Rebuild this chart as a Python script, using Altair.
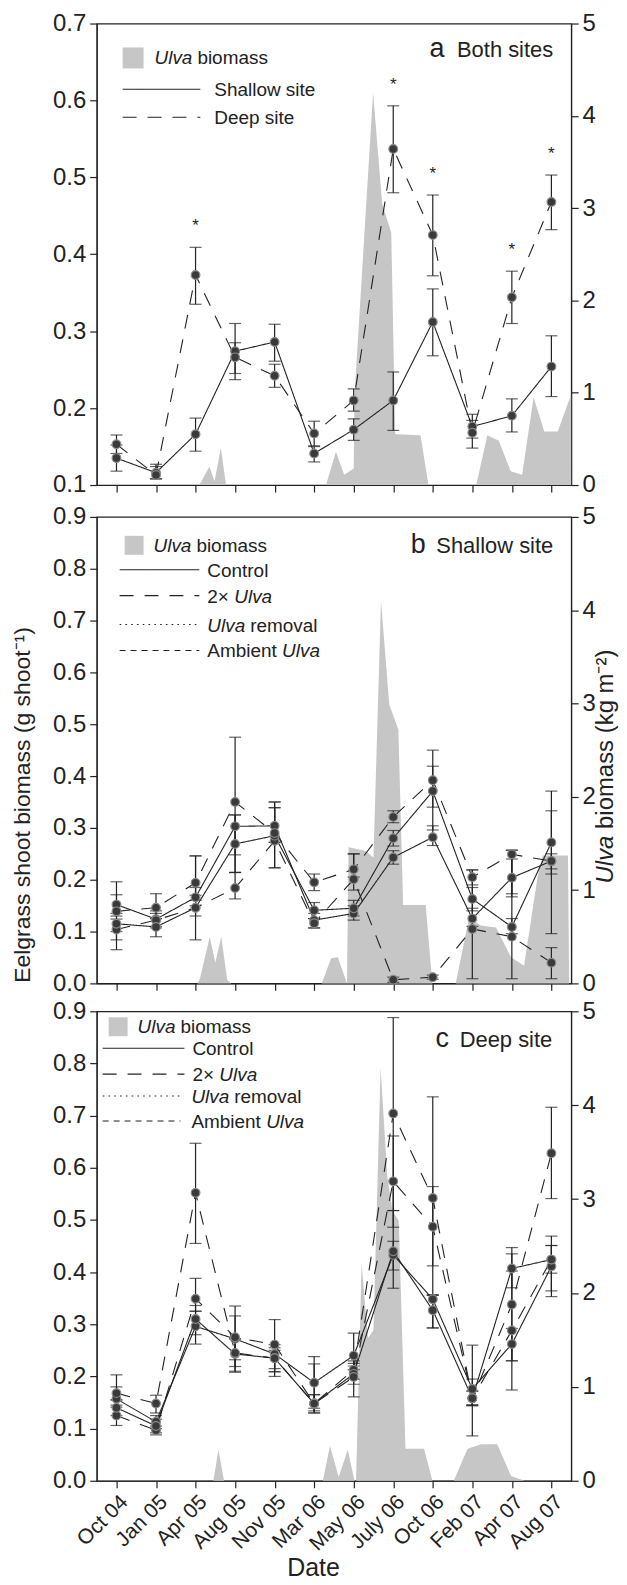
import altair as alt
import pandas as pd

DATES = ["Oct 04", "Jan 05", "Apr 05", "Aug 05", "Nov 05", "Mar 06",
         "May 06", "July 06", "Oct 06", "Feb 07", "Apr 07", "Aug 07"]

# ---- panel a: both sites ----
A_SHALLOW = [0.135, 0.116, 0.166, 0.274, 0.286, 0.141, 0.172, 0.210, 0.312, 0.176, 0.190, 0.254]
A_SHALLOW_LO = [0.118, 0.108, 0.144, 0.245, 0.261, 0.130, 0.158, 0.171, 0.268, 0.161, 0.169, 0.215]
A_SHALLOW_HI = [0.152, 0.124, 0.187, 0.310, 0.309, 0.150, 0.186, 0.247, 0.355, 0.192, 0.212, 0.294]
A_DEEP = [0.153, 0.113, 0.373, 0.266, 0.242, 0.167, 0.210, 0.537, 0.425, 0.168, 0.344, 0.468]
A_DEEP_LO = [0.141, 0.108, 0.335, 0.237, 0.227, 0.151, 0.196, 0.480, 0.372, 0.148, 0.310, 0.432]
A_DEEP_HI = [0.165, 0.127, 0.409, 0.285, 0.257, 0.183, 0.225, 0.593, 0.477, 0.184, 0.378, 0.503]
A_DEEP_SIG = [0, 0, 1, 0, 0, 0, 0, 1, 1, 0, 1, 1]

UA_X = [-0.5, 2.1, 2.15, 2.35, 2.48, 2.64, 2.77, 5.3, 5.55, 5.76, 6.0, 6.02, 6.49, 6.72, 6.95,
        7.05, 7.69, 7.89, 9.1, 9.38, 9.67, 9.97, 10.26, 10.55, 10.82, 11.16, 11.5]
UA_Y = [0, 0, 0.04, 0.2, 0.04, 0.4, 0, 0, 0.36, 0.11, 0.18, 0.97, 4.25, 3.05, 2.73,
        0.55, 0.54, 0, 0, 0.54, 0.48, 0.15, 0.11, 0.95, 0.58, 0.58, 0.98]

# ---- panel b: shallow site ----
B_CONTROL = [0.152, 0.124, 0.166, 0.303, 0.304, 0.122, 0.135, 0.243, 0.282, 0.125, 0.204, 0.236]
B_CONTROL_LO = [0.135, 0.110, 0.150, 0.248, 0.272, 0.107, 0.122, 0.230, 0.266, 0.110, 0.167, 0.096]
B_CONTROL_HI = [0.171, 0.140, 0.185, 0.325, 0.339, 0.135, 0.150, 0.256, 0.304, 0.145, 0.240, 0.371]
B_DOUBLE = [0.104, 0.122, 0.146, 0.184, 0.275, 0.116, 0.201, 0.007, 0.012, 0.105, 0.090, 0.040]
B_DOUBLE_LO = [0.084, 0.107, 0.084, 0.163, 0.223, 0.107, 0.180, 0.002, 0.008, 0.009, 0.009, 0.009]
B_DOUBLE_HI = [0.124, 0.135, 0.246, 0.214, 0.350, 0.125, 0.250, 0.012, 0.016, 0.219, 0.257, 0.069]
B_REMOVAL = [0.115, 0.109, 0.146, 0.269, 0.285, 0.141, 0.145, 0.280, 0.371, 0.163, 0.109, 0.272]
B_REMOVAL_LO = [0.100, 0.090, 0.130, 0.214, 0.223, 0.125, 0.130, 0.265, 0.296, 0.140, 0.096, 0.211]
B_REMOVAL_HI = [0.130, 0.125, 0.160, 0.325, 0.339, 0.156, 0.160, 0.295, 0.419, 0.185, 0.125, 0.333]
B_AMBIENT = [0.139, 0.146, 0.194, 0.350, 0.290, 0.195, 0.220, 0.321, 0.392, 0.205, 0.249, 0.236]
B_AMBIENT_LO = [0.065, 0.125, 0.170, 0.214, 0.272, 0.179, 0.205, 0.310, 0.340, 0.190, 0.173, 0.221]
B_AMBIENT_HI = [0.196, 0.173, 0.246, 0.475, 0.350, 0.211, 0.250, 0.333, 0.450, 0.219, 0.257, 0.250]

UB_X = [-0.5, 2.05, 2.11, 2.36, 2.5, 2.65, 2.8, 2.9, 5.19, 5.43, 5.6, 5.83, 5.87, 6.3, 6.5, 6.69,
        6.9, 7.13, 7.25, 7.35, 7.82, 7.99, 8.58, 8.92, 9.21, 9.6, 9.98, 10.31, 10.65, 10.78, 11.42, 11.45]
UB_Y = [0, 0, 0.05, 0.5, 0.22, 0.5, 0.04, 0, 0, 0.27, 0.28, 0, 1.46, 1.42, 1.35, 4.1,
        2.99, 2.72, 0.84, 0.84, 0.84, 0, 0, 0.71, 0.62, 0.6, 0.28, 0.19, 1.14, 1.37, 1.37, 0]

# ---- panel c: deep site ----
C_CONTROL = [0.157, 0.113, 0.296, 0.272, 0.243, 0.188, 0.240, 0.433, 0.348, 0.176, 0.262, 0.411]
C_CONTROL_LO = [0.141, 0.100, 0.262, 0.232, 0.209, 0.139, 0.213, 0.404, 0.293, 0.144, 0.230, 0.353]
C_CONTROL_HI = [0.180, 0.125, 0.325, 0.316, 0.261, 0.238, 0.283, 0.459, 0.356, 0.195, 0.292, 0.451]
C_DOUBLE = [0.125, 0.097, 0.349, 0.275, 0.261, 0.148, 0.213, 0.704, 0.542, 0.158, 0.288, 0.424]
C_DOUBLE_LO = [0.106, 0.088, 0.325, 0.219, 0.209, 0.130, 0.195, 0.518, 0.356, 0.086, 0.174, 0.364]
C_DOUBLE_HI = [0.145, 0.105, 0.388, 0.335, 0.309, 0.165, 0.230, 0.888, 0.736, 0.260, 0.402, 0.469]
C_REMOVAL = [0.140, 0.105, 0.310, 0.243, 0.235, 0.148, 0.205, 0.440, 0.327, 0.158, 0.407, 0.424]
C_REMOVAL_LO = [0.125, 0.092, 0.280, 0.210, 0.215, 0.134, 0.185, 0.369, 0.293, 0.146, 0.370, 0.398]
C_REMOVAL_HI = [0.155, 0.118, 0.336, 0.272, 0.255, 0.165, 0.225, 0.518, 0.356, 0.172, 0.447, 0.451]
C_AMBIENT = [0.168, 0.148, 0.552, 0.245, 0.235, 0.148, 0.199, 0.574, 0.487, 0.158, 0.338, 0.628]
C_AMBIENT_LO = [0.155, 0.130, 0.455, 0.208, 0.200, 0.130, 0.161, 0.486, 0.412, 0.144, 0.230, 0.541]
C_AMBIENT_HI = [0.203, 0.164, 0.647, 0.272, 0.250, 0.224, 0.220, 0.661, 0.564, 0.172, 0.435, 0.716]

UC_X = [-0.5, 2.45, 2.58, 2.72, 5.22, 5.4, 5.62, 5.85, 6.02, 6.06, 6.2, 6.36, 6.5, 6.68, 6.85,
        6.98, 7.14, 7.31, 7.78, 7.99, 8.53, 8.88, 9.22, 9.63, 9.98, 10.32, 11.5]
UC_Y = [0, 0, 0.33, 0, 0, 0.37, 0.04, 0.33, 0, 0, 2.31, 1.52, 1.6, 4.4, 3.24,
        2.88, 2.77, 0.34, 0.34, 0, 0, 0.34, 0.39, 0.39, 0.05, 0, 0]

# ---- styling ----
W = 476
HA, HB, HC = 463, 468, 471
FONT = "Liberation Sans"
INK = "#222222"
GRAY = "#c6c6c6"
LEG = 19
TICKF = 24
SOLID = [1, 0]
LONG = [14, 11]
DOTTED = [1.6, 4.2]
SHORT = [6, 5]
LABEL_EXPR = "[" + ",".join("'%s'" % d for d in DATES) + "][datum.value]"
ONE = pd.DataFrame({"k": [0]})


def make_df(series):
    rows = []
    for name, (m, lo, hi) in series.items():
        for i in range(len(DATES)):
            rows.append({"idx": i, "date": DATES[i], "treatment": name,
                         "mean": m[i], "lo": lo[i], "hi": hi[i]})
    return pd.DataFrame(rows)


def x_enc(show, field="idx"):
    ax = dict(values=list(range(12)), grid=False, tickSize=7, tickWidth=1.2,
              tickColor=INK, domainColor=INK, domainWidth=1.2)
    if show:
        ax.update(labels=True, labelExpr=LABEL_EXPR, labelAngle=-45, labelAlign="right",
                  labelBaseline="top", labelFontSize=21, labelFont=FONT, labelColor=INK,
                  labelPadding=3, labelOverlap=False, labelBound=False,
                  titleFontSize=25, titleFont=FONT, titleFontWeight="normal",
                  titleColor=INK, titlePadding=2, titleX=217)
        title = "Date"
    else:
        ax.update(labels=False)
        title = ""
    return alt.X(field + ":Q", title=title,
                 scale=alt.Scale(domain=[-0.5, 11.5], nice=False, zero=False),
                 axis=alt.Axis(**ax))


def y_enc(field, dom, vals):
    return alt.Y(field + ":Q", title="",
                 scale=alt.Scale(domain=dom, nice=False, zero=False),
                 axis=alt.Axis(values=vals, format=".1f", grid=False, tickSize=7,
                               tickWidth=1.2, tickColor=INK, domainColor=INK, domainWidth=1.2,
                               labelFontSize=TICKF, labelFont=FONT, labelColor=INK,
                               labelPadding=4, labelOverlap=False))


def txt(s, x, y, size=LEG, style="normal", align="left", angle=0, baseline="middle",
        opacity=1):
    return alt.Chart(ONE).mark_text(
        text=s, fontSize=size, fontStyle=style, align=align, baseline=baseline,
        angle=angle, font=FONT, color=INK, opacity=opacity).encode(
        x=alt.value(x), y=alt.value(y))


def leg_line(x1, x2, y, dash):
    return alt.Chart(ONE).mark_rule(color=INK, strokeWidth=1.1, strokeDash=dash).encode(
        x=alt.value(x1), x2=alt.value(x2), y=alt.value(y))


def leg_box(x1, x2, y1, y2):
    return alt.Chart(ONE).mark_rect(color=GRAY).encode(
        x=alt.value(x1), x2=alt.value(x2), y=alt.value(y1), y2=alt.value(y2))


def ulva_text(x, y):
    return [txt("Ulva", x, y, style="italic"), txt("biomass", x + 43, y)]


def panel(df, ux, uy, dom, yvals, dashes, height, show_x, extras, stars=None):
    X = x_enc(show_x)
    base = alt.Chart(df)
    lines = base.mark_line(color=INK, strokeWidth=1.1).encode(
        x=X, y=y_enc("mean", dom, yvals),
        strokeDash=alt.StrokeDash("treatment:N", legend=None,
                                  scale=alt.Scale(domain=list(dashes.keys()),
                                                  range=list(dashes.values()))))
    bars = base.mark_rule(color=INK, strokeWidth=1.2).encode(
        x=X, y=y_enc("lo", dom, yvals), y2=alt.Y2("hi:Q"))
    caps = base.transform_fold(["lo", "hi"], as_=["end", "v"]).mark_tick(
        orient="horizontal", color=INK, thickness=1.2, size=12).encode(
        x=X, y=y_enc("v", dom, yvals))
    pts = base.mark_circle(size=76, color="#3a3a3a", opacity=1, stroke="#8a8a8a",
                           strokeWidth=1.2).encode(x=X, y=y_enc("mean", dom, yvals))
    layers = [lines, bars, caps, pts]
    if stars is not None:
        layers.append(alt.Chart(stars).mark_text(
            text="*", fontSize=17, font=FONT, color=INK, baseline="middle", dy=-21).encode(
            x=X, y=y_enc("hi", dom, yvals)))
    inner = alt.layer(*layers, *extras)
    udf = pd.DataFrame({"x": ux, "u": uy})
    area = alt.Chart(udf).mark_area(color=GRAY, opacity=1, interpolate="linear").encode(
        x=x_enc(show_x, "x"),
        y=alt.Y("u:Q", title="", scale=alt.Scale(domain=[0, 5], nice=False),
                axis=alt.Axis(orient="right", values=[0, 1, 2, 3, 4, 5], format="d",
                              grid=False, tickSize=7, tickWidth=1.2, tickColor=INK,
                              domainColor=INK, domainWidth=1.2, labelFontSize=TICKF,
                              labelFont=FONT, labelColor=INK, labelPadding=4,
                              labelOverlap=False)))
    return alt.layer(area, inner).resolve_scale(y="independent").properties(
        width=W, height=height)


# ---- panel a ----
dfa = make_df({"Shallow site": (A_SHALLOW, A_SHALLOW_LO, A_SHALLOW_HI),
               "Deep site": (A_DEEP, A_DEEP_LO, A_DEEP_HI)})
stars_a = pd.DataFrame({"idx": list(range(12)), "hi": A_DEEP_HI, "sig": A_DEEP_SIG})
stars_a = stars_a[stars_a["sig"] == 1]
extras_a = [leg_box(26, 47, 24, 45), *ulva_text(58, 35),
            leg_line(26, 104, 66, SOLID), txt("Shallow site", 118, 67),
            leg_line(26, 104, 94, LONG), txt("Deep site", 118, 95),
            txt("a", 334, 34, size=27, baseline="alphabetic"),
            txt("Both sites", 458, 34, size=22, align="right", baseline="alphabetic"),
            txt(".", 10, HA + 15, size=1, baseline="top", opacity=0)]
pa = panel(dfa, UA_X, UA_Y, [0.1, 0.7], [0.1, 0.2, 0.3, 0.4, 0.5, 0.6, 0.7],
           {"Shallow site": SOLID, "Deep site": LONG}, HA, False, extras_a, stars=stars_a)

# ---- panel b ----
TREAT = {"Control": SOLID, "2x Ulva": LONG, "Ulva removal": DOTTED, "Ambient Ulva": SHORT}
dfb = make_df({"Control": (B_CONTROL, B_CONTROL_LO, B_CONTROL_HI),
               "2x Ulva": (B_DOUBLE, B_DOUBLE_LO, B_DOUBLE_HI),
               "Ulva removal": (B_REMOVAL, B_REMOVAL_LO, B_REMOVAL_HI),
               "Ambient Ulva": (B_AMBIENT, B_AMBIENT_LO, B_AMBIENT_HI)})
YV = [0.0, 0.1, 0.2, 0.3, 0.4, 0.5, 0.6, 0.7, 0.8, 0.9]
RT = 24  # right title font size
RT_C = 250  # right title centre
RT_Y0 = RT_C + 9.81 * RT / 2
extras_b = [leg_box(28, 47, 19, 38), *ulva_text(57, 29),
            leg_line(23, 103, 53, SOLID), txt("Control", 111, 54),
            leg_line(23, 103, 79, LONG), txt("2×", 111, 80), txt("Ulva", 138, 80, style="italic"),
            leg_line(23, 103, 108, DOTTED), txt("Ulva", 111, 109, style="italic"),
            txt("removal", 154, 109),
            leg_line(23, 103, 134, SHORT), txt("Ambient", 111, 135),
            txt("Ulva", 186, 135, style="italic"),
            txt("b", 315, 36, size=27, baseline="alphabetic"),
            txt("Shallow site", 458, 36, size=22, align="right", baseline="alphabetic"),
            txt("Eelgrass shoot biomass (g shoot⁻¹)", -74, 289, size=23, angle=270,
                align="center"),
            txt("Ulva", 511, RT_Y0, size=RT, angle=270, style="italic"),
            txt("biomass (kg m⁻²)", 511, RT_Y0 - 2.278 * RT, size=RT, angle=270)]
pb = panel(dfb, UB_X, UB_Y, [0.0, 0.9], YV, TREAT, HB, False, extras_b)

# ---- panel c ----
dfc = make_df({"Control": (C_CONTROL, C_CONTROL_LO, C_CONTROL_HI),
               "2x Ulva": (C_DOUBLE, C_DOUBLE_LO, C_DOUBLE_HI),
               "Ulva removal": (C_REMOVAL, C_REMOVAL_LO, C_REMOVAL_HI),
               "Ambient Ulva": (C_AMBIENT, C_AMBIENT_LO, C_AMBIENT_HI)})
extras_c = [leg_box(12, 31, 6, 25), *ulva_text(41, 16),
            leg_line(6, 88, 37, SOLID), txt("Control", 96, 38),
            leg_line(6, 88, 63, LONG), txt("2×", 96, 64), txt("Ulva", 123, 64, style="italic"),
            leg_line(6, 84, 85, DOTTED), txt("Ulva", 95, 86, style="italic"),
            txt("removal", 138, 86),
            leg_line(6, 84, 110, SHORT), txt("Ambient", 95, 111),
            txt("Ulva", 170, 111, style="italic"),
            txt("c", 340, 36, size=27, baseline="alphabetic"),
            txt("Deep site", 457, 36, size=22, align="right", baseline="alphabetic")]
pc = panel(dfc, UC_X, UC_Y, [0.0, 0.9], YV, TREAT, HC, True, extras_c)

chart = alt.vconcat(pa, pb, pc, spacing=2).properties(
    padding={"left": 3, "top": 0, "right": 0, "bottom": 0},
    background="white",
).configure_view(stroke=INK, strokeWidth=1.2).configure_axis(
    labelFont=FONT, titleFont=FONT)

chart.save("out.html", embed_options={"renderer": "svg", "actions": False})
